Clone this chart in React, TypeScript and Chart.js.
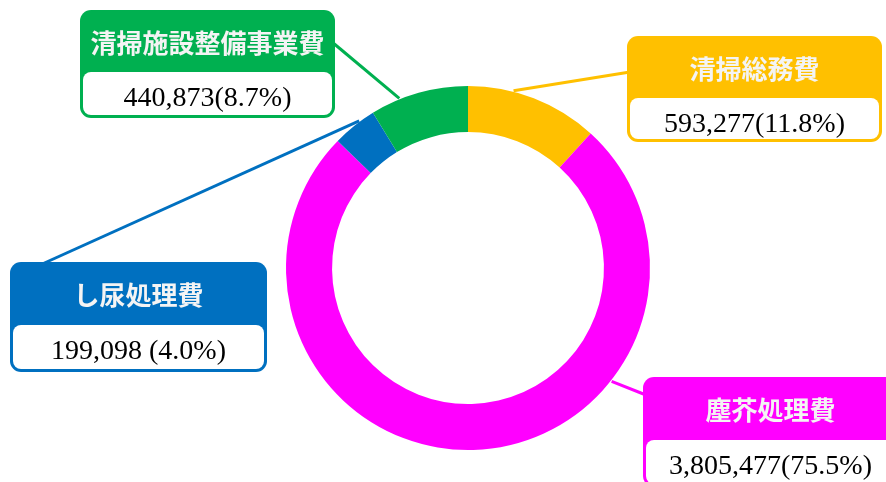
import React, { useEffect, useRef } from "react";
import { Chart, registerables } from "chart.js";

Chart.register(...registerables);

// ---- data ----
const categories = ["清掃総務費", "塵芥処理費", "し尿処理費", "清掃施設整備事業費"];
const values = [593277, 3805477, 199098, 440873];
const valueLabels = ["593,277(11.8%)", "3,805,477(75.5%)", "199,098 (4.0%)", "440,873(8.7%)"];
const colors = ["#FFC000", "#FF00FF", "#0070C0", "#00B050"];

// ---- callout layout (positions of the label boxes) ----
const callouts = [
  { x: 627, y: 36, w: 255, h: 106, head: 62, ax: 630, ay: 72, frac: 0.34 },
  { x: 643, y: 377, w: 255, h: 110, head: 63, ax: 646, ay: 395, frac: 0.316 },
  { x: 10, y: 262, w: 257, h: 110, head: 63, ax: 40, ay: 265, frac: 0.65 },
  { x: 80, y: 10, w: 255, h: 108, head: 62, ax: 332, ay: 42, frac: 0.3 },
];

function rr(ctx: CanvasRenderingContext2D, x: number, y: number, w: number, h: number, r: number) {
  ctx.beginPath();
  ctx.moveTo(x + r, y);
  ctx.lineTo(x + w - r, y);
  ctx.arcTo(x + w, y, x + w, y + r, r);
  ctx.lineTo(x + w, y + h - r);
  ctx.arcTo(x + w, y + h, x + w - r, y + h, r);
  ctx.lineTo(x + r, y + h);
  ctx.arcTo(x, y + h, x, y + h - r, r);
  ctx.lineTo(x, y + r);
  ctx.arcTo(x, y, x + r, y, r);
  ctx.closePath();
}

const calloutPlugin = {
  id: "callouts",
  beforeDatasetsDraw(chart: any) {
    const ctx: CanvasRenderingContext2D = chart.ctx;
    const meta = chart.getDatasetMeta(0);
    ctx.save();
    meta.data.forEach((arc: any, i: number) => {
      const c = callouts[i];
      const p = arc.getProps(["x", "y", "startAngle", "endAngle", "outerRadius"], true);
      const a = p.startAngle + c.frac * (p.endAngle - p.startAngle);
      const r = p.outerRadius + 1;
      const ex = p.x + Math.cos(a) * r;
      const ey = p.y + Math.sin(a) * r;
      ctx.strokeStyle = colors[i];
      ctx.lineWidth = 3;
      ctx.beginPath();
      ctx.moveTo(c.ax, c.ay);
      ctx.lineTo(ex, ey);
      ctx.stroke();
    });
    ctx.restore();
  },
  afterDraw(chart: any) {
    const ctx: CanvasRenderingContext2D = chart.ctx;
    ctx.save();
    categories.forEach((name, i) => {
      const c = callouts[i];
      const bw = 3;
      ctx.fillStyle = colors[i];
      rr(ctx, c.x, c.y, c.w, c.h, 11);
      ctx.fill();
      ctx.fillStyle = "#ffffff";
      rr(ctx, c.x + bw, c.y + c.head, c.w - 2 * bw, c.h - c.head - bw, 8);
      ctx.fill();
      // header text
      ctx.fillStyle = "#F4F4F4";
      ctx.font = 'bold 26px "Noto Sans CJK JP"';
      ctx.textAlign = "center";
      ctx.textBaseline = "middle";
      ctx.fillText(name, c.x + c.w / 2, c.y + c.head / 2 + 2);
      // value text
      ctx.fillStyle = "#000000";
      ctx.font = '28px "Liberation Serif", "Noto Sans CJK JP"';
      ctx.textBaseline = "alphabetic";
      ctx.fillText(valueLabels[i], c.x + c.w / 2, c.y + c.head + 34);
    });
    ctx.restore();
  },
};

export default function App() {
  const ref = useRef<HTMLCanvasElement | null>(null);
  useEffect(() => {
    if (!ref.current) return;
    const chart = new Chart(ref.current, {
      type: "doughnut",
      data: {
        labels: categories,
        datasets: [
          {
            data: values,
            backgroundColor: colors,
            borderWidth: 0,
          },
        ],
      },
      options: {
        animation: false,
        responsive: false,
        cutout: "74.7%",
        layout: { padding: { left: 286, right: 236, top: 86, bottom: 32 } },
        plugins: { legend: { display: false }, tooltip: { enabled: false } },
      },
      plugins: [calloutPlugin],
    });
    return () => chart.destroy();
  }, []);
  return (
    <div style={{ position: "fixed", left: 0, top: 0, width: 886, height: 482, background: "#fff" }}>
      <canvas ref={ref} width={886} height={482} style={{ width: 886, height: 482 }} />
    </div>
  );
}
